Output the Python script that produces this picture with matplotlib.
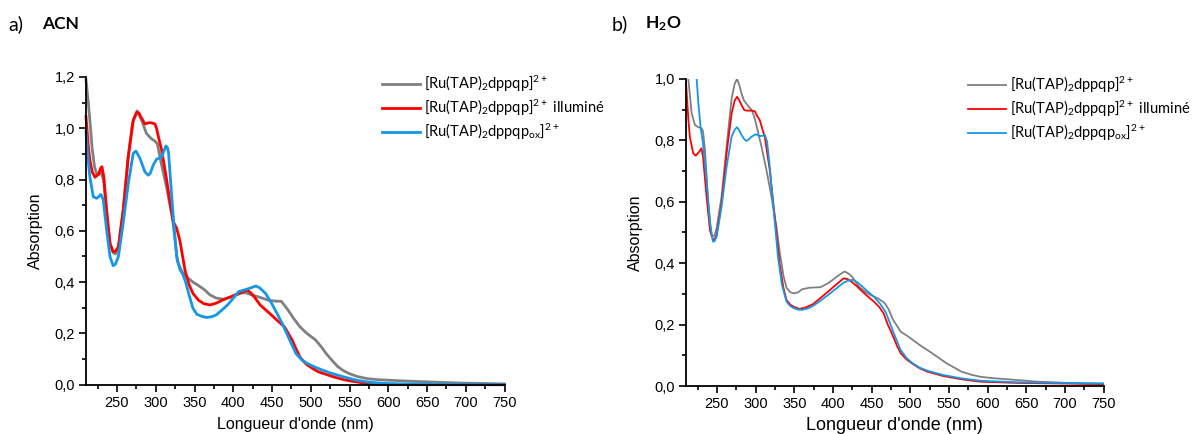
import matplotlib
matplotlib.use('Agg')
import matplotlib.pyplot as plt
from matplotlib.ticker import MultipleLocator, FuncFormatter

plt.rcParams['font.family'] = ['Liberation Sans', 'DejaVu Sans']
plt.rcParams['mathtext.fontset'] = 'custom'
plt.rcParams['mathtext.rm'] = 'Lato'
plt.rcParams['mathtext.bf'] = 'Lato:bold'
plt.rcParams['mathtext.default'] = 'regular'

# ---- data: a) ACN ----
acn_grey_x = [210, 213, 215, 218, 221, 224, 227, 230, 233, 237, 241, 245, 248, 252, 258, 264, 270, 276,
              282, 288, 294, 299, 302, 307, 314, 322, 328, 334, 340, 348, 356, 363, 370, 378, 388, 395,
              402, 410, 416, 424, 432, 440, 447, 455, 462, 466, 471, 478, 486, 495, 506, 513, 520, 528,
              535, 542, 550, 560, 574, 590, 604, 625, 643, 670, 692, 720, 750]
acn_grey_y = [1.19, 1.10, 1.03, 0.92, 0.85, 0.82, 0.82, 0.83, 0.79, 0.66, 0.55, 0.515, 0.51, 0.535, 0.68,
              0.88, 1.02, 1.068, 1.03, 0.98, 0.96, 0.95, 0.94, 0.865, 0.77, 0.64, 0.48, 0.44, 0.42, 0.40,
              0.385, 0.37, 0.35, 0.338, 0.333, 0.34, 0.35, 0.357, 0.359, 0.35, 0.343, 0.335, 0.328, 0.326,
              0.325, 0.31, 0.29, 0.258, 0.226, 0.20, 0.175, 0.15, 0.121, 0.093, 0.07, 0.055, 0.043, 0.032,
              0.023, 0.019, 0.017, 0.014, 0.012, 0.009, 0.0065, 0.005, 0.003]

acn_red_x = [210, 213, 215, 218, 221.6, 226, 229, 230.5, 233, 236.6, 241, 245, 248, 251.7, 258, 264.6,
             271, 275.4, 278, 281.8, 286, 289, 292.5, 296, 299, 301, 304, 307.6, 314, 318, 322.6, 327,
             331, 337.7, 343, 348, 355, 362, 370, 378, 388, 397, 405, 412, 418, 422, 427, 435, 447, 457,
             466, 471, 476, 481, 486, 491, 496, 503, 510, 520, 530, 542, 555, 574, 600, 650, 750]
acn_red_y = [1.045, 0.93, 0.876, 0.83, 0.809, 0.82, 0.845, 0.85, 0.81, 0.68, 0.55, 0.519, 0.52, 0.538,
             0.68, 0.889, 1.032, 1.062, 1.06, 1.039, 1.017, 1.02, 1.022, 1.02, 1.017, 1.0, 0.96, 0.915,
             0.80, 0.72, 0.636, 0.61, 0.564, 0.447, 0.39, 0.356, 0.33, 0.316, 0.311, 0.318, 0.333, 0.343,
             0.352, 0.362, 0.369, 0.36, 0.343, 0.31, 0.278, 0.25, 0.226, 0.20, 0.174, 0.14, 0.108, 0.09,
             0.076, 0.062, 0.05, 0.04, 0.03, 0.02, 0.013, 0.004, 0.001, 0.0, 0.0]

acn_blue_x = [210, 213, 215, 219.4, 223.8, 227, 229, 230.5, 232.3, 236.6, 241, 245, 248, 251.7, 258,
              264.6, 271, 274.5, 279.6, 286, 290.4, 293, 296.8, 301, 305, 307.6, 311, 313, 315, 316.5,
              319, 322.6, 327, 331, 335, 338.5, 343, 348, 353, 358, 365.5, 372, 378, 385, 392.6, 400,
              407, 417, 423, 429, 434, 441.7, 449, 456.5, 463, 469, 475, 481, 488, 496, 506, 516, 525,
              535, 547, 560, 575, 594, 620, 680, 750]
acn_blue_y = [0.987, 0.87, 0.81, 0.733, 0.727, 0.735, 0.742, 0.735, 0.72, 0.603, 0.499, 0.464, 0.47,
              0.499, 0.63, 0.785, 0.903, 0.911, 0.883, 0.83, 0.817, 0.825, 0.857, 0.879, 0.885, 0.887,
              0.915, 0.931, 0.925, 0.905, 0.80, 0.655, 0.50, 0.45, 0.43, 0.40, 0.35, 0.298, 0.275, 0.268,
              0.262, 0.265, 0.272, 0.29, 0.311, 0.337, 0.363, 0.372, 0.378, 0.385, 0.378, 0.356, 0.32,
              0.278, 0.24, 0.20, 0.16, 0.121, 0.098, 0.082, 0.068, 0.056, 0.046, 0.037, 0.027, 0.017,
              0.01, 0.005, 0.003, 0.001, 0.0]

# ---- data: b) H2O ----
h2o_grey_x = [210, 213, 217.3, 221.6, 226, 230, 232, 234.5, 238.8, 243, 245, 247, 249.6, 256, 262.5,
              269, 273, 276, 279, 281.8, 285, 288, 291, 294.7, 298, 301, 307.6, 314, 320.5, 327, 331,
              336, 340, 345, 350, 355, 360, 369.6, 384, 394, 404, 410, 415, 419, 424, 433.5, 440, 448,
              458, 467, 472, 478, 487.7, 497.5, 512, 527, 547, 566, 580, 591, 605, 625.5, 665, 714, 750]
h2o_grey_y = [1.08, 1.0, 0.888, 0.85, 0.843, 0.84, 0.83, 0.77, 0.595, 0.49, 0.489, 0.49, 0.514, 0.617,
              0.78, 0.937, 0.985, 1.0, 0.98, 0.953, 0.93, 0.92, 0.91, 0.9, 0.88, 0.85, 0.78, 0.704,
              0.617, 0.519, 0.44, 0.36, 0.32, 0.305, 0.302, 0.305, 0.315, 0.32, 0.322, 0.335, 0.354,
              0.365, 0.373, 0.368, 0.359, 0.324, 0.31, 0.297, 0.286, 0.27, 0.25, 0.215, 0.177, 0.161,
              0.134, 0.109, 0.074, 0.047, 0.036, 0.03, 0.026, 0.022, 0.014, 0.009, 0.008]

h2o_red_x = [210, 213, 215, 219.4, 222.5, 227, 230, 232, 236.6, 241, 245, 247, 249.6, 256, 262.5, 269,
             273, 276, 279, 281.8, 285, 288, 294.7, 299, 302, 305.4, 312, 318.3, 324.8, 331, 336, 340,
             345, 350, 357, 365, 374.5, 384, 394, 404, 414, 419, 424, 431, 438, 445, 453, 460, 465.5,
             471, 478, 483, 487.7, 495, 502, 512, 522, 542, 566, 591, 640, 700, 750]
h2o_red_y = [0.99, 0.87, 0.81, 0.758, 0.75, 0.763, 0.774, 0.747, 0.617, 0.508, 0.476, 0.478, 0.492,
             0.595, 0.758, 0.888, 0.93, 0.942, 0.93, 0.915, 0.9, 0.897, 0.897, 0.895, 0.88, 0.866, 0.81,
             0.704, 0.552, 0.40, 0.32, 0.28, 0.265, 0.257, 0.251, 0.256, 0.267, 0.287, 0.308, 0.33,
             0.351, 0.348, 0.34, 0.325, 0.308, 0.292, 0.275, 0.257, 0.237, 0.20, 0.161, 0.13, 0.107,
             0.087, 0.074, 0.058, 0.047, 0.033, 0.022, 0.014, 0.01, 0.008, 0.006]

h2o_blue_x = [210, 214, 218, 221, 223.8, 226, 229, 232, 236.6, 241, 245, 247, 249.6, 256, 262.5, 269,
              273, 276, 279, 281.8, 285, 288, 291, 294.7, 300.3, 305.4, 309, 312, 314.9, 318.3, 322.6,
              329, 334, 340, 345, 350, 355, 360, 367, 374.5, 384, 394, 404, 414, 420, 426, 432, 438,
              445, 453, 461, 468, 473, 478, 483, 487.7, 495, 502, 512, 522, 542, 566, 591, 640, 700, 750]
h2o_blue_y = [1.35, 1.22, 1.1, 1.04, 1.0, 0.92, 0.84, 0.79, 0.67, 0.53, 0.47, 0.472, 0.486, 0.584,
              0.714, 0.812, 0.835, 0.843, 0.832, 0.818, 0.805, 0.798, 0.803, 0.812, 0.82, 0.814, 0.815,
              0.818, 0.796, 0.715, 0.595, 0.42, 0.33, 0.275, 0.26, 0.253, 0.249, 0.248, 0.252, 0.261,
              0.278, 0.297, 0.317, 0.337, 0.343, 0.346, 0.337, 0.324, 0.308, 0.291, 0.268, 0.242, 0.21,
              0.177, 0.145, 0.117, 0.092, 0.076, 0.06, 0.05, 0.036, 0.025, 0.017, 0.012, 0.01, 0.008]

labels = ['[Ru(TAP)$_2$dppqp]$^{\\mathrm{2+}}$',
          '[Ru(TAP)$_2$dppqp]$^{\\mathrm{2+}}$ illuminé',
          '[Ru(TAP)$_2$dppqp$_{ox}$]$^{\\mathrm{2+}}$']
colors = ['#808080', '#ff0000', '#1497e6']


def comma(v, pos):
    return ('%.1f' % v).replace('.', ',')


def style_axes(ax, ymax):
    ax.set_xlim(210, 750)
    ax.set_ylim(0, ymax)
    ax.xaxis.set_major_locator(MultipleLocator(50))
    ax.xaxis.set_minor_locator(MultipleLocator(25))
    ax.yaxis.set_major_locator(MultipleLocator(0.2))
    ax.yaxis.set_minor_locator(MultipleLocator(0.1))
    ax.yaxis.set_major_formatter(FuncFormatter(comma))
    ax.set_xticks([250, 300, 350, 400, 450, 500, 550, 600, 650, 700, 750])
    ax.tick_params(which='major', direction='out', length=5, width=1.2, labelsize=10.5, pad=3)
    ax.tick_params(which='minor', direction='out', length=3, width=1.2)
    for s in ['top', 'right']:
        ax.spines[s].set_visible(False)
    for s in ['left', 'bottom']:
        ax.spines[s].set_linewidth(1.3)
    ax.set_ylabel('Absorption', fontsize=11.5, labelpad=8)


fig = plt.figure(figsize=(11.96, 4.34), dpi=100)
ax1 = fig.add_axes([86 / 1196, 1 - 384.7 / 434, (504.5 - 86) / 1196, (384.7 - 77) / 434])
ax2 = fig.add_axes([686 / 1196, 1 - 386 / 434, (1103.5 - 686) / 1196, (386 - 79) / 434])

l1 = ax1.plot(acn_grey_x, acn_grey_y, color=colors[0], lw=2.0, clip_on=False)
l2 = ax1.plot(acn_red_x, acn_red_y, color=colors[1], lw=2.0, clip_on=False)
l3 = ax1.plot(acn_blue_x, acn_blue_y, color=colors[2], lw=2.0, clip_on=False)
style_axes(ax1, 1.2)
ax1.set_xlabel("Longueur d'onde (nm)", fontsize=11.5, labelpad=5)

m1 = ax2.plot(h2o_grey_x, h2o_grey_y, color=colors[0], lw=1.3)
m2 = ax2.plot(h2o_red_x, h2o_red_y, color=colors[1], lw=1.3)
m3 = ax2.plot(h2o_blue_x, h2o_blue_y, color=colors[2], lw=1.3)
style_axes(ax2, 1.0)
ax2.set_xlabel("Longueur d'onde (nm)", fontsize=13, labelpad=4)

leg_kw = dict(frameon=False, prop={'family': 'Lato', 'size': 10.5}, handlelength=2.6,
              handletextpad=0.3, labelspacing=0.25, borderpad=0, borderaxespad=0, loc='upper left')
fig.legend(l1 + l2 + l3, labels, bbox_to_anchor=(382 / 1196, 1 - 74 / 434), **leg_kw)
fig.legend(m1 + m2 + m3, labels, bbox_to_anchor=(968 / 1196, 1 - 75 / 434), **leg_kw)

fig.text(8 / 1196, 1 - 24 / 434, 'a)', fontsize=14, va='center', family='Lato')
fig.text(42 / 1196, 1 - 24 / 434, 'ACN', fontsize=12.5, va='center', family='Lato', weight='bold')
fig.text(612 / 1196, 1 - 24 / 434, 'b)', fontsize=14, va='center', family='Lato')
fig.text(645 / 1196, 1 - 24 / 434, 'H$_\\mathbf{2}$O', fontsize=12.5, va='center', family='Lato',
         weight='bold')

fig.savefig('out.png', dpi=100)
